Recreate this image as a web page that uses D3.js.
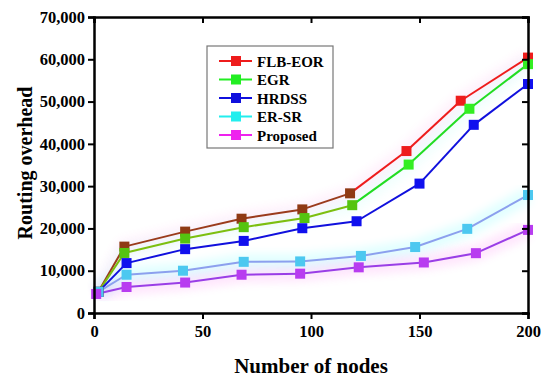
<!DOCTYPE html>
<html lang="en-US">
<head>
<meta charset="utf-8">
<style>
  body { margin: 0; background: #fff; }
  svg { display: block; font-family: "Liberation Serif", "Times New Roman", serif; font-weight: bold; }
</style>
</head>
<body>
<div id="chart"></div>
<script src="https://cdnjs.cloudflare.com/ajax/libs/d3/7.8.5/d3.min.js"></script>
<script>
// data
var seriesNames = ['FLB-EOR', 'EGR', 'HRDSS', 'ER-SR', 'Proposed'];
var flbX = [2, 14, 42, 68, 96, 118, 144, 169, 200];
var flbY = [5000, 15700, 19250, 22300, 24500, 28300, 38300, 50200, 60400];
var egrX = [2, 14, 42, 69, 97, 119, 145, 173, 200];
var egrY = [5000, 14200, 17600, 20300, 22450, 25500, 35100, 48300, 58850];
var hrdssX = [2, 15, 42, 69, 96, 121, 150, 175, 200];
var hrdssY = [5000, 11800, 15100, 17050, 20050, 21700, 30600, 44500, 54150];
var ersrX = [2, 15, 41, 69, 95, 123, 148, 172, 200];
var ersrY = [5000, 9050, 10000, 12100, 12200, 13500, 15600, 19900, 27900];
var propX = [1, 15, 42, 68, 95, 122, 152, 176, 200];
var propY = [4500, 6150, 7200, 9050, 9300, 10800, 11950, 14150, 19650];
var xTicks = [0, 50, 100, 150, 200];
var yTicks = [0, 10000, 20000, 30000, 40000, 50000, 60000, 70000];

var WIDTH = 550, HEIGHT = 382;
var margin = {left: 94, right: 22, top: 17, bottom: 69};

// styles: low colour used up to index 'cut', then high colour
var styles = [
  {line: '#ee1c1c', mark: '#ee1c1c', lowLine: '#9a3b1c', lowMark: '#8f3a14', cut: 5, halo: '#ff66dd'},
  {line: '#22dd22', mark: '#33ee22', lowLine: '#7cbf10', lowMark: '#55c410', cut: 5, halo: '#66ffee'},
  {line: '#1010dd', mark: '#1010ee', lowLine: '#1010dd', lowMark: '#1010ee', cut: 0, halo: null},
  {line: '#8ca0ee', mark: '#4cc8f0', lowLine: '#8ca0ee', lowMark: '#4cc8f0', cut: 0, halo: '#33ffff'},
  {line: '#9a3ee6', mark: '#b83cf0', lowLine: '#9a3ee6', lowMark: '#b83cf0', cut: 0, halo: '#ff55ee'}
];

var series = [
  {name: seriesNames[0], xs: flbX, ys: flbY},
  {name: seriesNames[1], xs: egrX, ys: egrY},
  {name: seriesNames[2], xs: hrdssX, ys: hrdssY},
  {name: seriesNames[3], xs: ersrX, ys: ersrY},
  {name: seriesNames[4], xs: propX, ys: propY}
];

var svg = d3.select('#chart').append('svg').attr('width', WIDTH).attr('height', HEIGHT);

var x = d3.scaleLinear().domain([0, 200]).range([margin.left, WIDTH - margin.right]);
var y = d3.scaleLinear().domain([0, 70000]).range([HEIGHT - margin.bottom, margin.top]);

var defs = svg.append('defs');
defs.append('filter').attr('id', 'blur').append('feGaussianBlur').attr('stdDeviation', 4);

var line = d3.line().x(d => x(d[0])).y(d => y(d[1]));

// faint halos behind some series
series.forEach((s, i) => {
  if (!styles[i].halo) return;
  var pts = s.xs.map((v, k) => [v, s.ys[k]]);
  svg.append('path').datum(pts)
    .attr('d', line).attr('fill', 'none')
    .attr('stroke', styles[i].halo).attr('stroke-width', 16)
    .attr('opacity', i >= 3 ? 0.14 : 0.08)
    .attr('filter', 'url(#blur)');
});

// lines
series.forEach((s, i) => {
  var st = styles[i];
  var pts = s.xs.map((v, k) => [v, s.ys[k]]);
  for (var k = 0; k < pts.length - 1; k++) {
    svg.append('path').datum([pts[k], pts[k + 1]])
      .attr('d', line).attr('fill', 'none')
      .attr('stroke', k < st.cut ? st.lowLine : st.line)
      .attr('stroke-width', 2);
  }
});

// markers
series.forEach((s, i) => {
  var st = styles[i];
  var pts = s.xs.map((v, k) => [v, s.ys[k]]);
  svg.append('g').selectAll('rect').data(pts).join('rect')
    .attr('x', d => x(d[0]) - 5).attr('y', d => y(d[1]) - 5)
    .attr('width', 10).attr('height', 10)
    .attr('fill', (d, k) => k <= st.cut && st.cut > 0 ? st.lowMark : st.mark);
});

// axes
var fmt = d3.format(',');
var axBottom = svg.append('g').attr('transform', 'translate(0,' + (HEIGHT - margin.bottom) + ')')
  .call(d3.axisBottom(x).tickValues(xTicks).tickSize(6).tickPadding(6));
var axLeft = svg.append('g').attr('transform', 'translate(' + margin.left + ',0)')
  .call(d3.axisLeft(y).tickValues(yTicks).tickFormat(fmt).tickSize(6).tickPadding(3));
var axTop = svg.append('g').attr('transform', 'translate(0,' + margin.top + ')')
  .call(d3.axisTop(x).tickValues(xTicks).tickSize(-6).tickFormat(''));
var axRight = svg.append('g').attr('transform', 'translate(' + (WIDTH - margin.right) + ',0)')
  .call(d3.axisRight(y).tickValues(yTicks).tickSize(-6).tickFormat(''));

[axBottom, axLeft, axTop, axRight].forEach(g => {
  g.select('.domain').attr('stroke', '#000').attr('stroke-width', 2.5);
  g.selectAll('.tick line').attr('stroke', '#000').attr('stroke-width', 2);
  g.selectAll('text').attr('fill', '#000')
    .style('font-family', '"Liberation Serif", serif').style('font-weight', 'bold').style('font-size', '16.5px');
});

// axis titles
svg.append('text').attr('x', 311).attr('y', 373).attr('text-anchor', 'middle')
  .style('font-size', '21px').text('Number of nodes');
svg.append('text').attr('transform', 'translate(32,163) rotate(-90)').attr('text-anchor', 'middle')
  .style('font-size', '20px').text('Routing overhead');

// legend
var lg = svg.append('g').attr('transform', 'translate(207,46)');
lg.append('rect').attr('width', 126).attr('height', 102)
  .attr('fill', '#fff').attr('stroke', '#777').attr('stroke-width', 1.2);
var legendCol = ['#ee1c1c', '#22ee22', '#1010dd', '#22eeee', '#ee22ee'];
seriesNames.forEach((n, i) => {
  var row = lg.append('g').attr('transform', 'translate(0,' + (15 + i * 18.5) + ')');
  row.append('line').attr('x1', 12).attr('x2', 45).attr('stroke', legendCol[i]).attr('stroke-width', 2);
  row.append('rect').attr('x', 24).attr('y', -5).attr('width', 10).attr('height', 10).attr('fill', legendCol[i]);
  row.append('text').attr('x', 50).attr('y', 5.5).style('font-size', '15px').text(n);
});
</script>
</body>
</html>
